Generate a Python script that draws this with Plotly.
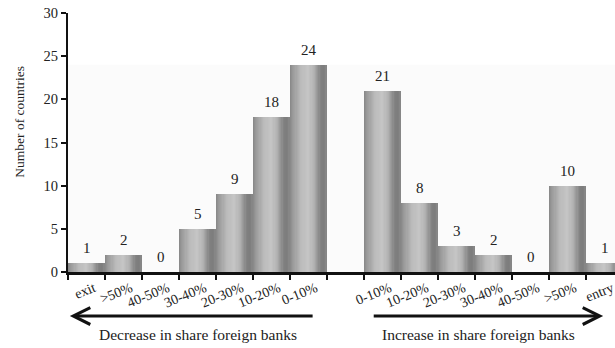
import plotly.graph_objects as go

# Change in the share of foreign banks, grouped by size of the change
decrease_labels = ["exit", ">50%", "40-50%", "30-40%", "20-30%", "10-20%", "0-10%"]
decrease_counts = [1, 2, 0, 5, 9, 18, 24]
increase_labels = ["0-10%", "10-20%", "20-30%", "30-40%", "40-50%", ">50%", "entry"]
increase_counts = [21, 8, 3, 2, 0, 10, 1]

y_ticks = [0, 5, 10, 15, 20, 25, 30]

# positions: decrease group, one empty slot, increase group
dec_x = list(range(len(decrease_labels)))
inc_x = [len(decrease_labels) + 1 + i for i in range(len(increase_labels))]
all_x = dec_x + inc_x
all_y = decrease_counts + increase_counts
all_labels = decrease_labels + increase_labels

FONT = "Liberation Serif"
INK = "#222"

# grey "cylinder" shading across each bar: (fraction across bar, grey level)
shade_stops = [(0.0, 0x86), (0.08, 0x98), (0.3, 0xba), (0.5, 0xc6), (0.66, 0xb2),
               (0.84, 0x80), (0.94, 0x7c), (1.0, 0x8a)]


def grey_at(f):
    for (f0, g0), (f1, g1) in zip(shade_stops, shade_stops[1:]):
        if f0 <= f <= f1:
            g = int(round(g0 + (g1 - g0) * (f - f0) / (f1 - f0)))
            return f"rgb({g},{g},{g})"
    g = shade_stops[-1][1]
    return f"rgb({g},{g},{g})"


fig = go.Figure()

n_strips = 32
for k in range(n_strips):
    off = -0.5 + k / n_strips
    w = min(1.6 / n_strips, 0.5 - off)
    fig.add_trace(go.Bar(
        x=all_x, y=all_y, offset=off, width=w,
        marker=dict(color=grey_at((k + 0.5) / n_strips), line=dict(width=0)),
        showlegend=False, hoverinfo="skip",
    ))

# value labels above the bars
for xv, yv in zip(all_x, all_y):
    fig.add_annotation(x=xv, y=yv, xref="x", yref="y", text=str(yv),
                       showarrow=False, yanchor="bottom", yshift=5,
                       font=dict(family=FONT, size=15, color=INK))

x_right = 14.28
label_shift = 0.2
fig.update_layout(
    width=615, height=348,
    margin=dict(l=68, r=0, t=13, b=76),
    paper_bgcolor="white", plot_bgcolor="white",
    barmode="overlay", bargap=0,
    font=dict(family=FONT, size=14, color=INK),
    xaxis=dict(
        range=[-0.5, x_right],
        tickvals=[v + label_shift for v in all_x], ticktext=all_labels,
        tickangle=-22, ticks="", tickfont=dict(size=14),
        ticklabeloverflow="allow",
        minor=dict(tick0=-0.5, dtick=1, ticks="outside", ticklen=5,
                   tickwidth=1.5, tickcolor="#111", showgrid=False),
        showline=True, linecolor="#111", linewidth=2.5,
        showgrid=False, zeroline=False,
    ),
    yaxis=dict(
        range=[0, 30], tickvals=y_ticks,
        ticks="outside", ticklen=5, tickwidth=2, tickcolor="#111",
        tickfont=dict(size=14.5),
        showline=True, linecolor="#111", linewidth=2,
        showgrid=False, zeroline=False,
    ),
    shapes=[dict(type="rect", xref="paper", yref="y", layer="below",
                 x0=0, x1=1, y0=0, y1=max(all_y),
                 fillcolor="#fbfbfb", line=dict(width=0))],
)

fig.add_annotation(x=-0.088, y=0.58, xref="paper", yref="paper",
                   xanchor="center", yanchor="middle", textangle=-90,
                   text="Number of countries", showarrow=False,
                   font=dict(size=13.5))

arrow_y = -0.17
text_y = -0.24
fig.add_annotation(x=-0.45, y=arrow_y, xref="x", yref="paper",
                   ax=6.15, ay=0, axref="x", ayref="pixel",
                   showarrow=True, arrowhead=5, arrowsize=1.1, arrowwidth=3,
                   arrowcolor="#111", text="")
fig.add_annotation(x=13.96, y=arrow_y, xref="x", yref="paper",
                   ax=7.72, ay=0, axref="x", ayref="pixel",
                   showarrow=True, arrowhead=5, arrowsize=1.1, arrowwidth=3,
                   arrowcolor="#111", text="")
fig.add_annotation(x=3.0, y=text_y, xref="x", yref="paper", yanchor="middle",
                   text="Decrease in share foreign banks", showarrow=False,
                   font=dict(size=15.5))
fig.add_annotation(x=10.6, y=text_y, xref="x", yref="paper", yanchor="middle",
                   text="Increase in share foreign banks", showarrow=False,
                   font=dict(size=15.5))

fig.write_html("out.html")
